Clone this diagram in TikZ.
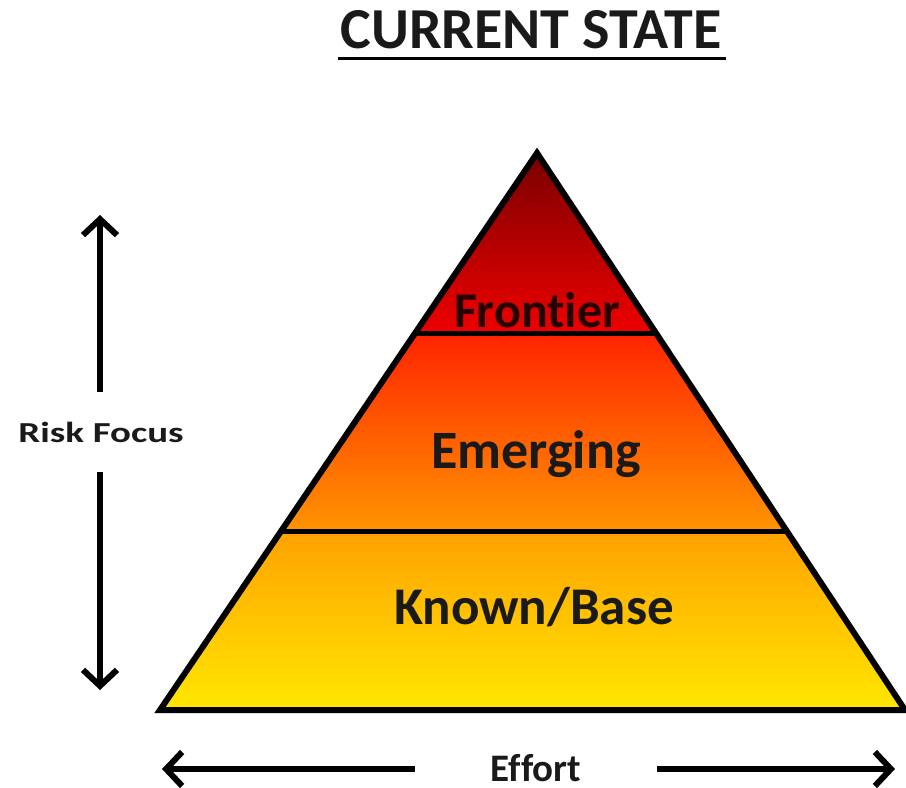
\documentclass[tikz,border=0pt]{standalone}
\usepackage{fontspec}
\usepackage{graphicx}
\setmainfont{Carlito}[Ligatures={NoCommon}]
\usetikzlibrary{arrows.meta,calc}
\definecolor{txt}{HTML}{1A1A1A}
\definecolor{frTop}{HTML}{780000}
\definecolor{frBot}{HTML}{EE0000}
\definecolor{emTop}{HTML}{FF2400}
\definecolor{emBot}{HTML}{FF9500}
\definecolor{knTop}{HTML}{FFA200}
\definecolor{knBot}{HTML}{FFE800}
\tikzset{
  lbl/.style={font=\bfseries, text=txt, inner sep=0pt},
  outline/.style={line width=6pt, draw=black},
  divider/.style={line width=5pt, draw=black},
  bigarrow/.style={line width=6pt, -{Straight Barb[length=16pt,width=34pt]}},
}
\begin{document}
\begin{tikzpicture}[x=1pt,y=-1pt]
\useasboundingbox (0,0) rectangle (906,788);
% geometry
\coordinate (A) at (537,153);
\coordinate (BL) at (160,710);
\coordinate (BR) at (905,710);
\coordinate (L1) at ($(A)!0.3232!(BL)$);
\coordinate (R1) at ($(A)!0.3232!(BR)$);
\coordinate (L2) at ($(A)!0.6804!(BL)$);
\coordinate (R2) at ($(A)!0.6804!(BR)$);
% fills
\begin{scope}
  \clip (A) -- (BL) -- (BR) -- cycle;
  \fill[top color=frTop, bottom color=frBot] (150,150) rectangle (910,333);
  \fill[top color=emTop, bottom color=emBot] (150,333) rectangle (910,532);
  \fill[top color=knTop, bottom color=knBot] (150,532) rectangle (910,712);
\end{scope}
\draw[divider] (L1) -- (R1);
\draw[divider] (L2) -- (R2);
\draw[outline] (A) -- (BL) -- (BR) -- cycle;
% title
\node[lbl, anchor=base, font=\bfseries\fontsize{58}{62}\selectfont] (title) at (531,48) {CURRENT STATE};
\draw[line width=3pt] ($(title.base west)+(-2,10)$) -- ($(title.base east)+(4,10)$);
% layer labels
\node[lbl, anchor=base, text=black!85!red, font=\bfseries\fontsize{50}{54}\selectfont] (fr) at (537,327) {Frontier};
\node[lbl, anchor=base, font=\bfseries\fontsize{54}{58}\selectfont] (em) at (536,468) {Emerging};
\node[lbl, anchor=base, font=\bfseries\fontsize{53}{56}\selectfont] (kn) at (534,624) {Known/Base};
% risk focus
\node[lbl, font=\bfseries\fontsize{29}{32}\selectfont, minimum height=80pt] (rf) at (101,432) {\scalebox{1.34}[1]{Risk Focus}};
\coordinate (rfTop) at (100,215);
\coordinate (rfBot) at (100,690);
\draw[bigarrow] (rf.north -| rfTop) -- (rfTop);
\draw[bigarrow] (rf.south -| rfBot) -- (rfBot);
% effort
\node[lbl, font=\bfseries\fontsize{39}{42}\selectfont, text height=25pt, text depth=0pt, minimum width=242pt] (ef) at (536,769) {Effort};
\coordinate (efL) at (162,769);
\coordinate (efR) at (895,769);
\draw[bigarrow] (ef.west) -- (efL);
\draw[bigarrow] (ef.east) -- (efR);
\end{tikzpicture}
\end{document}
